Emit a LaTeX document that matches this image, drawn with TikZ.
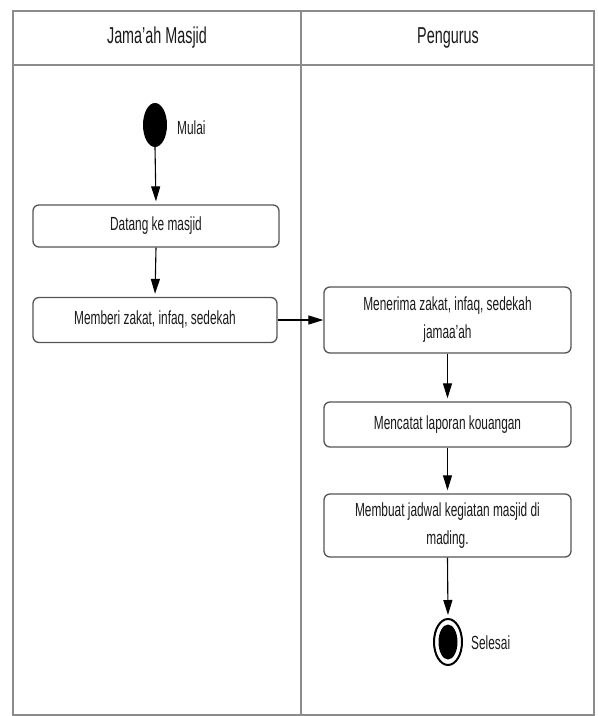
\documentclass[tikz,border=0pt]{standalone}
\usepackage{fontspec}
\setmainfont{Liberation Sans}[FakeStretch=0.625]
\usetikzlibrary{arrows.meta,shapes.geometric}
\definecolor{frm}{HTML}{8C8C8C}
\definecolor{bx}{HTML}{555555}
\definecolor{txt}{HTML}{1A1A1A}
\begin{document}
\begin{tikzpicture}[x=1pt,y=-1pt,
  act/.style={draw=bx, line width=1.3pt, rounded corners=6pt, fill=white, text=txt,
    font=\fontsize{19}{28}\selectfont, align=center, inner sep=0pt},
  flow/.style={draw=black, line width=1.1pt, -{Triangle[length=15pt,width=9pt]}, shorten >=3pt},
  lbl/.style={text=txt, font=\fontsize{19}{28}\selectfont, anchor=west, inner sep=0pt},
  hdr/.style={text=txt, font=\fontsize{23}{26}\selectfont, inner sep=0pt},
  lane/.style={draw=frm, line width=2pt}]
\useasboundingbox (0,0) rectangle (598,716);
% swimlane frame
\draw[lane] (13,11) rectangle (594,715);
\draw[lane] (13,65) -- (594,65);
\draw[lane] (301,11) -- (301,715);
\node[hdr] (h1) at (157,38) {Jama'ah Masjid};
\node[hdr] (h2) at (448,38) {Pengurus};
% start
\node[ellipse, fill=black, minimum width=24pt, minimum height=44pt, inner sep=0pt] (start) at (155,125) {};
\node[lbl] (mulai) at (177,128) {Mulai};
% activities
\node[act, minimum width=246pt, minimum height=42pt] (datang) at (156,226) {Datang ke masjid};
\node[act, minimum width=244pt, minimum height=45pt] (memberi) at (155,320) {Memberi zakat, infaq, sedekah};
\node[act, minimum width=247pt, minimum height=66pt] (menerima) at (447.5,320) {Menerima zakat, infaq, sedekah\\jamaa'ah};
\node[act, minimum width=247pt, minimum height=45pt] (mencatat) at (447.5,424.5) {Mencatat laporan kouangan};
\node[act, minimum width=247pt, minimum height=63pt] (membuat) at (447.5,525.5) {Membuat jadwal kegiatan masjid di\\mading.};
% end
\node[ellipse, draw=black, line width=2pt, fill=white, minimum width=28pt, minimum height=46pt, inner sep=0pt] (end) at (448,642) {};
\node[ellipse, fill=black, minimum width=19pt, minimum height=35pt, inner sep=0pt] (endin) at (end.center) {};
\node[lbl] (selesai) at (471,643) {Selesai};
% flows
\draw[flow] (start.south) -- (datang.north);
\draw[flow] (datang.south) -- (memberi.north);
\draw[flow, shorten >=0pt] (memberi.east) -- (menerima.west);
\draw[flow] (menerima.south) -- (mencatat.north);
\draw[flow] (mencatat.south) -- (membuat.north);
\draw[flow] (membuat.south) -- (end.north);
\end{tikzpicture}
\end{document}
